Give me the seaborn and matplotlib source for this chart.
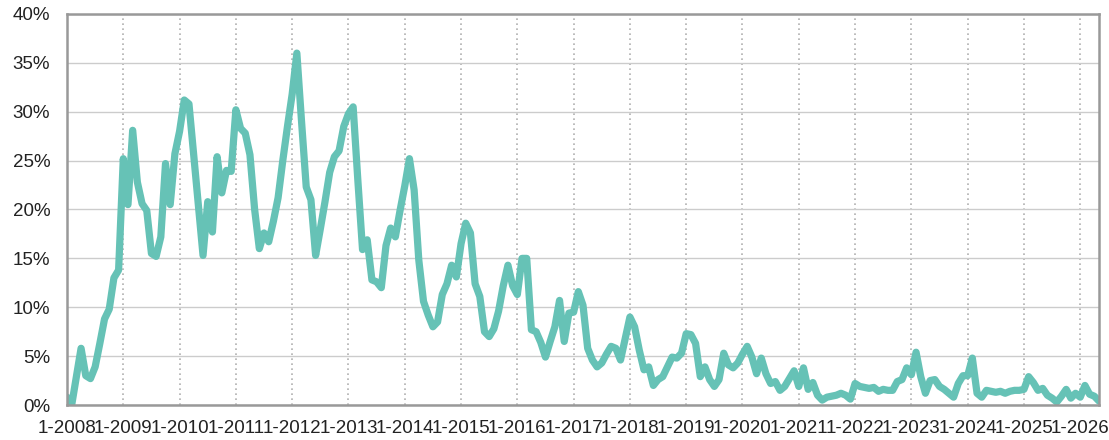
import matplotlib
matplotlib.use("Agg")
import matplotlib.pyplot as plt
import seaborn as sns
import pandas as pd

# monthly share (%), Jan 2008 .. May 2026
share = [
    # 2008
    0.8, 0.0, 2.9, 5.8, 3.0, 2.7, 3.9, 6.3, 8.8, 9.8, 13.0, 13.8,
    # 2009
    25.2, 20.5, 28.1, 22.8, 20.6, 19.9, 15.5, 15.2, 17.2, 24.7, 20.5, 25.7,
    # 2010
    28.0, 31.2, 30.8, 25.6, 20.4, 15.3, 20.8, 17.7, 25.4, 21.7, 24.0, 23.9,
    # 2011
    30.2, 28.3, 27.8, 25.6, 20.0, 16.0, 17.6, 16.7, 18.8, 21.2, 25.0, 28.5,
    # 2012
    31.8, 36.0, 29.0, 22.3, 21.0, 15.3, 18.0, 20.8, 23.8, 25.4, 26.0, 28.5,
    # 2013
    29.8, 30.5, 23.0, 15.9, 16.9, 12.8, 12.6, 12.0, 16.3, 18.1, 17.2, 19.9,
    # 2014
    22.4, 25.2, 22.0, 14.8, 10.6, 9.2, 8.0, 8.5, 11.3, 12.4, 14.3, 13.1,
    # 2015
    16.5, 18.6, 17.6, 12.4, 11.1, 7.5, 7.0, 7.8, 9.6, 12.2, 14.3, 12.2,
    # 2016
    11.3, 15.0, 15.0, 7.7, 7.5, 6.4, 4.9, 6.5, 8.0, 10.7, 6.5, 9.4,
    # 2017
    9.5, 11.6, 10.2, 5.8, 4.6, 3.9, 4.3, 5.2, 6.0, 5.8, 4.6, 6.8,
    # 2018
    9.0, 8.0, 5.6, 3.6, 3.9, 2.0, 2.6, 2.9, 3.9, 4.9, 4.8, 5.3,
    # 2019
    7.3, 7.2, 6.3, 2.9, 3.9, 2.6, 1.9, 2.6, 5.3, 4.1, 3.8, 4.3,
    # 2020
    5.2, 6.0, 4.9, 3.2, 4.8, 3.2, 2.2, 2.4, 1.5, 1.9, 2.7, 3.5,
    # 2021
    1.9, 3.8, 1.6, 2.3, 1.0, 0.5, 0.8, 0.9, 1.0, 1.2, 1.0, 0.6,
    # 2022
    2.2, 1.9, 1.8, 1.7, 1.8, 1.4, 1.6, 1.5, 1.5, 2.4, 2.6, 3.8,
    # 2023
    3.1, 5.4, 2.9, 1.2, 2.5, 2.6, 1.9, 1.6, 1.2, 0.8, 2.2, 3.0,
    # 2024
    3.0, 4.8, 1.2, 0.8, 1.5, 1.4, 1.3, 1.4, 1.2, 1.4, 1.5, 1.5,
    # 2025
    1.6, 2.9, 2.3, 1.5, 1.7, 1.0, 0.7, 0.3, 0.9, 1.6, 0.7, 1.2,
    # 2026
    0.8, 2.0, 1.1, 0.9, 0.4,
]
start_year = 2008
y_ticks = [0, 5, 10, 15, 20, 25, 30, 35, 40]

df = pd.DataFrame({"month": range(len(share)), "share": share})
tick_pos = list(range(0, len(share), 12))
tick_labels = [f"1-{start_year + k}" for k in range(len(tick_pos))]

sns.set_theme(style="white")
plt.rcParams['font.family'] = ['Liberation Sans', 'DejaVu Sans']

fig, ax = plt.subplots(figsize=(11.09, 4.40), dpi=100)
fig.subplots_adjust(left=67 / 1109, right=1099 / 1109, top=1 - 14 / 440, bottom=1 - 405 / 440)

sns.lineplot(data=df, x="month", y="share", color="#66c2b6", linewidth=5.2, ax=ax)
for ln in ax.get_lines():
    ln.set_solid_joinstyle("round")
    ln.set_solid_capstyle("round")

ax.set_xlim(0, len(share) - 1)
ax.set_ylim(0, 40)
ax.set_xticks(tick_pos)
ax.set_xticklabels(tick_labels)
ax.set_yticks(y_ticks)
ax.set_yticklabels([f"{v}%" for v in y_ticks])
ax.set_xlabel("")
ax.set_ylabel("")

ax.set_axisbelow(True)
ax.yaxis.grid(True, color="#cccccc", linewidth=1.0, linestyle="-")
ax.xaxis.grid(True, color="#b0b0b0", linewidth=1.2, linestyle=(0, (1, 2)))

for s in ax.spines.values():
    s.set_visible(True)
    s.set_color("#999999")
    s.set_linewidth(1.8)

ax.tick_params(axis="both", length=4, width=1, color="#999999",
               labelsize=13.5, labelcolor="#222222")
ax.tick_params(axis="y", pad=8)
ax.tick_params(axis="x", pad=7)

plt.savefig("out.png", dpi=100)
plt.close()
